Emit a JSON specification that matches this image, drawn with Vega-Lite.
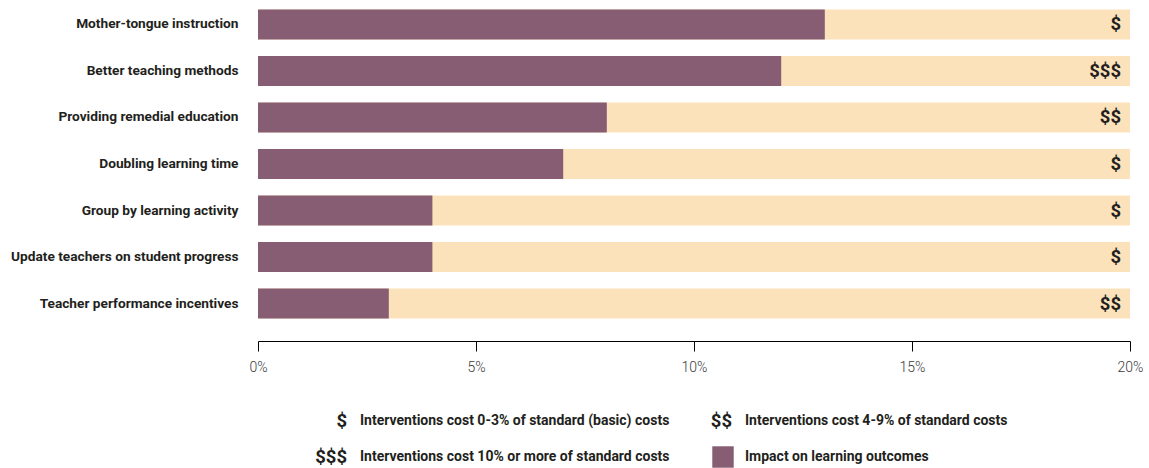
{
  "$schema": "https://vega.github.io/schema/vega-lite/v6.json",
  "width": 872,
  "height": 326,
  "autosize": {"type": "none"},
  "padding": {"left": 258, "top": 1, "right": 19, "bottom": 141},
  "background": "white",
  "config": {"view": {"stroke": null}, "font": "Roboto, sans-serif"},
  "datasets": {
    "bars": [
      {"intervention": "Mother-tongue instruction", "impact": 13, "total": 20, "cost": "$"},
      {"intervention": "Better teaching methods", "impact": 12, "total": 20, "cost": "$$$"},
      {"intervention": "Providing remedial education", "impact": 8, "total": 20, "cost": "$$"},
      {"intervention": "Doubling learning time", "impact": 7, "total": 20, "cost": "$"},
      {"intervention": "Group by learning activity", "impact": 4, "total": 20, "cost": "$"},
      {"intervention": "Update teachers on student progress", "impact": 4, "total": 20, "cost": "$"},
      {"intervention": "Teacher performance incentives", "impact": 3, "total": 20, "cost": "$$"}
    ],
    "legend": [
      {"col": "a", "row": "r1", "symbol": "$", "label": "Interventions cost  0-3% of standard (basic) costs", "kind": "text"},
      {"col": "b", "row": "r1", "symbol": "$$", "label": "Interventions cost 4-9% of standard costs", "kind": "text"},
      {"col": "a", "row": "r2", "symbol": "$$$", "label": "Interventions cost 10% or more of standard costs", "kind": "text"},
      {"col": "b", "row": "r2", "symbol": "", "label": "Impact on learning outcomes", "kind": "swatch"}
    ]
  },
  "resolve": {"scale": {"x": "independent", "y": "independent"}},
  "layer": [
    {
      "data": {"name": "bars"},
      "layer": [
        {
          "mark": {"type": "bar", "color": "#FBE2BB"},
          "encoding": {
            "y": {
              "field": "intervention", "type": "nominal", "sort": null,
              "scale": {"paddingInner": 0.355, "paddingOuter": 0.18},
              "axis": {"title": null, "domain": false, "ticks": false, "labelPadding": 20,
                       "labelFontSize": 13.7, "labelFontWeight": "bold", "labelColor": "#231F20",
                       "labelFont": "Roboto, sans-serif", "labelLimit": 400,
                       "minExtent": 258, "maxExtent": 258}
            },
            "x": {
              "field": "total", "type": "quantitative",
              "scale": {"domain": [0, 20], "nice": false},
              "axis": {"title": null, "values": [0, 5, 10, 15, 20], "labelExpr": "datum.value + '%'",
                       "grid": false, "offset": 14, "domainColor": "#000000", "domainWidth": 1.2,
                       "tickColor": "#000000", "tickSize": 10, "labelPadding": 9, "labelFlush": false,
                       "labelFontSize": 14, "labelColor": "#3a3a3a", "labelFontWeight": 300,
                       "labelFont": "Roboto, sans-serif"}
            }
          }
        },
        {
          "mark": {"type": "bar", "color": "#875D73"},
          "encoding": {
            "y": {"field": "intervention", "type": "nominal", "sort": null},
            "x": {"field": "impact", "type": "quantitative"}
          }
        },
        {
          "mark": {"type": "text", "align": "right", "dx": -9, "baseline": "middle", "fontSize": 18.5, "fontWeight": "bold", "color": "#231F20", "font": "Roboto, sans-serif"},
          "encoding": {
            "y": {"field": "intervention", "type": "nominal", "sort": null},
            "x": {"field": "total", "type": "quantitative"},
            "text": {"field": "cost"}
          }
        }
      ]
    },
    {
      "data": {"name": "legend"},
      "resolve": {"scale": {"x": "shared", "y": "shared"}},
      "layer": [
        {
          "mark": {"type": "text", "align": "right", "dx": -8, "baseline": "middle", "fontSize": 18.5, "fontWeight": "bold", "color": "#231F20", "font": "Roboto, sans-serif"},
          "encoding": {
            "x": {"field": "col", "type": "nominal", "scale": {"type": "point", "domain": ["a", "b"], "range": [97, 482], "padding": 0}, "axis": null},
            "y": {"field": "row", "type": "nominal", "scale": {"type": "point", "domain": ["r1", "r2"], "range": [420, 456], "padding": 0}, "axis": null},
            "text": {"field": "symbol"}
          }
        },
        {
          "mark": {"type": "text", "align": "left", "dx": 5, "baseline": "middle", "fontSize": 14, "fontWeight": "bold", "color": "#231F20", "font": "Roboto, sans-serif"},
          "encoding": {
            "x": {"field": "col", "type": "nominal"},
            "y": {"field": "row", "type": "nominal"},
            "text": {"field": "label"}
          }
        },
        {
          "transform": [{"filter": "datum.kind === 'swatch'"}],
          "mark": {"type": "point", "shape": "square", "filled": true, "size": 460, "xOffset": -17, "color": "#875D73", "opacity": 1},
          "encoding": {
            "x": {"field": "col", "type": "nominal"},
            "y": {"field": "row", "type": "nominal"}
          }
        }
      ]
    }
  ]
}
